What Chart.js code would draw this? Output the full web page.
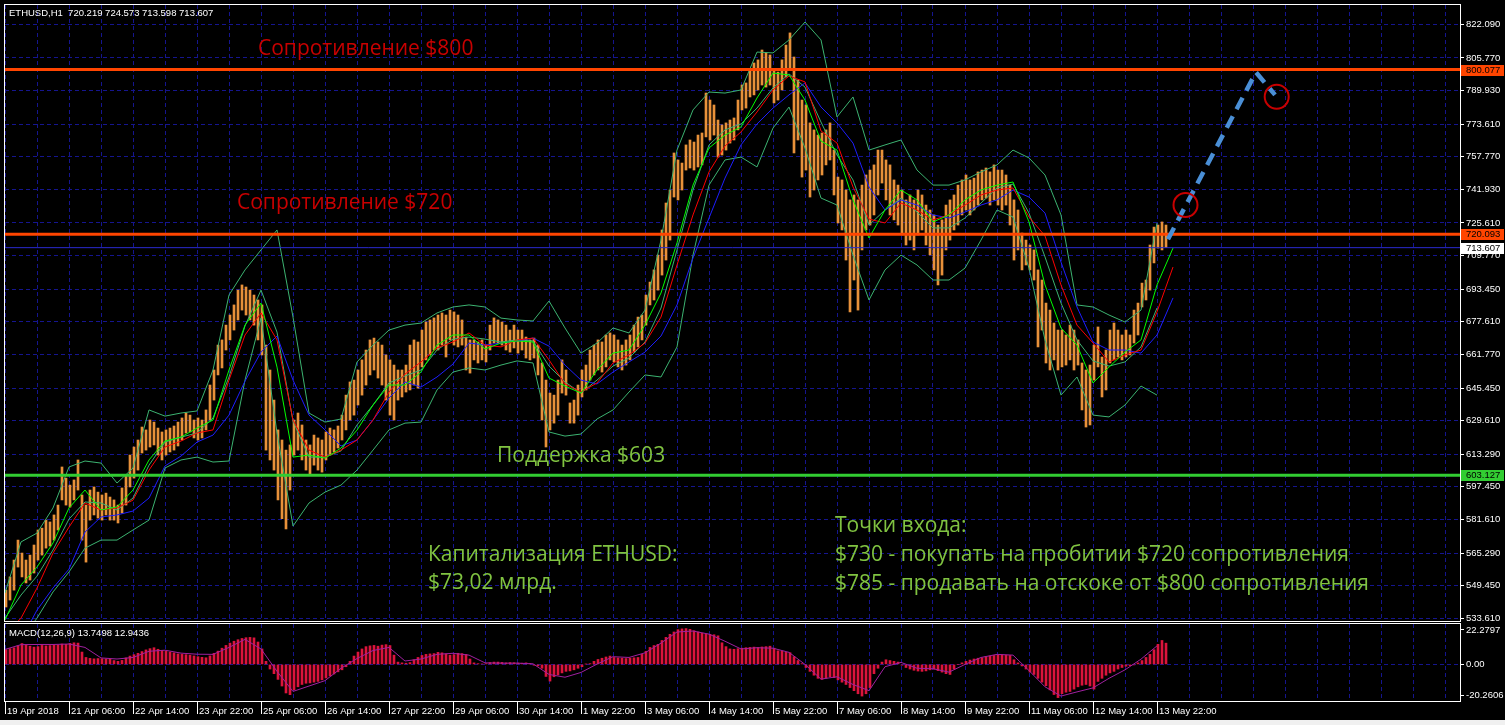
<!DOCTYPE html>
<html><head><meta charset="utf-8">
<script src="https://cdn.jsdelivr.net/npm/chart.js@4.4.1/dist/chart.umd.min.js"></script>
<style>
html,body{margin:0;padding:0;background:#000;width:1505px;height:725px;overflow:hidden}
#wrap{position:relative;width:1505px;height:725px;background:#000}
#mainBox{position:absolute;left:0;top:0;width:1505px;height:622px}
#macdBox{position:absolute;left:0;top:622px;width:1505px;height:103px}
#ov{position:absolute;left:0;top:0;width:1505px;height:725px;pointer-events:none}
#strip{position:absolute;left:0;top:720px;width:1505px;height:5px;background:#f0f0f0}
</style></head><body>
<div id="wrap">
<div id="mainBox"><canvas id="main" width="1505" height="622"></canvas></div>
<div id="macdBox"><canvas id="macd" width="1505" height="103"></canvas></div>
<div id="strip"></div>
<svg id="ov" xmlns="http://www.w3.org/2000/svg" width="1505" height="725">
  <g font-family="Liberation Sans, Arial, sans-serif" font-size="9.5" fill="#ffffff" style="white-space:pre">
    <text x="9" y="16" xml:space="preserve">ETHUSD,H1  720.219 724.573 713.598 713.607</text>
    <text x="9" y="636" xml:space="preserve">MACD(12,26,9) 13.7498 12.9436</text>
  </g>
  <g font-family="Open Sans, Noto Sans, sans-serif" font-size="21">
    <text x="258" y="55" fill="#c80000">Сопротивление $800</text>
    <text x="237" y="209" fill="#c80000">Сопротивление $720</text>
    <text x="497" y="462" fill="#80c341">Поддержка $603</text>
    <text x="428" y="561" fill="#80c341">Капитализация ETHUSD:</text>
    <text x="428" y="589" fill="#80c341">$73,02 млрд.</text>
    <text x="835" y="532" fill="#80c341">Точки входа:</text>
    <text x="835" y="561" fill="#80c341">$730 - покупать на пробитии $720 сопротивления</text>
    <text x="835" y="590" fill="#80c341">$785 - продавать на отскоке от $800 сопротивления</text>
  </g>
</svg>
</div>
<script>
// ---------- DATA ----------
const timeLabels = ['19 Apr 2018','21 Apr 06:00','22 Apr 14:00','23 Apr 22:00','25 Apr 06:00','26 Apr 14:00','27 Apr 22:00','29 Apr 06:00','30 Apr 14:00','1 May 22:00','3 May 06:00','4 May 14:00','5 May 22:00','7 May 06:00','8 May 14:00','9 May 22:00','11 May 06:00','12 May 14:00','13 May 22:00'];
const priceTicks = [822.090,805.770,789.930,773.610,757.770,741.930,725.610,709.770,693.450,677.610,661.770,645.450,629.610,613.290,597.450,581.610,565.290,549.450,533.610];
const macdTicks = [22.2797, 0, -20.2606];
const macdTickLabels = ['22.2797','0.00','-20.2606'];

// price bars (one entry per two H1 bars): highs and lows
const barHigh = [547.3,553.7,561.9,571.6,565.3,561.9,564.3,569.2,576.5,577.4,
581.3,580.4,583.8,588.6,607.1,601.7,598.3,600.8,610.5,593.5,
588.6,595.9,597.4,594.9,593.5,594.4,592.5,591.1,588.6,596.9,
603.2,612.9,616.8,620.2,626.5,625.1,629.9,628.9,626.0,624.1,
625.1,626.0,627.0,628.9,630.9,633.3,632.3,629.9,630.9,629.9,
634.8,646.9,654.2,666.3,668.8,676.0,680.9,685.8,693.0,695.5,
694.5,693.0,690.6,688.2,685.8,666.3,654.2,639.6,625.1,620.2,
615.3,617.8,629.9,633.3,627.5,620.2,617.8,622.6,621.2,620.2,
624.1,626.0,625.1,627.0,632.3,642.0,648.4,649.3,654.2,659.1,
663.9,668.8,669.7,667.8,666.3,661.5,659.1,656.6,654.2,654.2,
656.6,666.3,668.8,667.8,673.6,677.5,678.5,679.5,680.9,681.9,
680.9,683.3,682.4,680.9,678.5,670.2,668.8,668.8,667.8,668.8,
666.3,676.0,679.5,678.5,677.5,676.0,673.6,676.0,673.6,673.6,
670.2,668.8,669.7,666.3,657.6,649.3,643.0,642.0,649.3,659.1,
654.2,638.2,639.6,646.9,654.2,656.6,663.9,666.3,668.8,667.8,
671.2,672.2,671.2,668.8,666.3,668.8,671.2,676.0,679.9,680.9,
690.6,696.9,702.8,710.0,722.2,735.3,741.6,759.6,756.2,754.7,
763.5,765.9,764.9,768.3,769.3,788.7,785.3,782.9,775.6,773.2,
774.2,775.6,776.6,785.3,792.6,793.6,799.9,803.3,804.8,809.6,
808.2,807.2,799.9,798.9,804.8,812.0,817.9,806.2,795.0,785.3,
782.9,774.2,770.8,768.3,769.3,770.8,774.2,761.0,747.9,746.5,
741.6,736.8,739.2,736.8,744.0,748.9,751.3,753.8,761.0,761.0,
756.2,753.8,746.5,744.0,741.6,736.8,739.2,736.8,741.6,739.2,
734.3,731.9,729.5,724.6,727.1,734.3,736.8,739.2,744.0,746.5,
748.9,746.5,747.4,750.4,751.3,752.3,750.4,753.8,751.3,751.3,
748.9,744.0,736.8,731.9,720.7,717.3,714.9,712.5,702.8,697.9,
686.7,683.3,677.0,673.6,673.6,671.2,676.0,673.6,668.8,657.6,
654.2,656.6,666.3,675.1,660.5,663.9,673.6,677.0,673.6,671.2,
673.6,671.2,683.3,686.7,696.4,697.9,714.9,723.6,724.6,726.1,
724.6];
const barLow = [539.1,542.5,547.3,558.5,553.7,550.8,552.2,555.6,561.9,564.3,
567.7,568.7,571.6,576.5,591.1,588.6,587.6,591.1,595.9,571.6,
560.9,581.3,583.8,582.3,581.3,583.8,581.3,581.3,579.9,584.7,
588.6,597.4,601.7,605.6,613.9,615.3,616.8,617.8,612.9,610.5,
612.9,614.4,615.3,617.3,620.2,623.6,624.1,621.2,620.2,621.2,
625.1,629.9,639.6,651.8,655.2,663.9,668.8,673.6,678.5,683.3,
680.9,678.5,676.0,668.8,661.5,615.3,610.5,605.6,591.1,582.0,
577.0,595.9,612.9,615.3,610.5,605.6,603.2,608.0,605.6,604.6,
610.5,612.9,614.4,616.3,620.2,625.1,629.9,632.3,637.2,642.0,
646.9,651.8,654.2,650.3,646.9,639.6,632.3,629.9,639.6,641.1,
643.5,644.5,646.9,645.4,655.7,659.1,661.5,663.9,663.9,666.3,
660.5,668.8,666.3,665.4,666.3,654.2,652.7,659.1,657.6,659.1,
658.1,663.9,667.3,667.3,666.3,663.9,662.9,664.9,662.4,663.9,
660.0,659.1,660.0,651.8,629.9,616.8,625.1,628.4,632.3,643.0,
642.0,628.4,628.4,632.3,641.1,644.5,649.3,651.8,654.2,653.2,
655.7,659.1,658.1,655.7,654.2,656.6,659.1,662.9,665.4,668.8,
676.0,685.8,688.2,693.0,700.3,707.6,717.3,738.2,736.8,741.6,
751.3,752.3,751.3,752.8,753.8,767.4,765.9,768.3,757.6,758.6,
761.0,764.4,765.9,770.8,780.5,781.4,786.8,787.8,790.2,792.6,
791.6,792.6,783.9,785.3,790.2,796.5,799.9,759.6,765.9,747.9,
751.3,738.2,741.6,746.5,748.9,753.8,756.2,739.2,725.6,722.2,
707.6,682.4,697.9,683.3,712.5,722.2,724.6,729.5,739.2,745.0,
736.8,729.5,727.1,724.6,719.8,714.9,717.3,712.5,719.8,722.2,
714.9,710.1,702.8,695.5,700.3,712.5,717.3,722.2,724.6,729.5,
731.9,729.5,731.9,734.3,736.8,737.7,734.3,736.8,734.3,731.9,
734.3,724.6,707.6,712.5,702.8,705.2,702.8,697.9,665.4,673.6,
657.6,654.2,659.1,654.2,655.7,656.6,659.1,654.2,656.6,634.8,
626.5,627.5,649.3,655.7,641.1,644.5,657.6,659.1,660.5,659.1,
660.5,661.5,667.3,671.2,684.8,688.2,693.0,706.2,713.4,712.5,
713.6];

// indicator lines (one entry per eight H1 bars)
const maGreen = [532.8,549.8,558.5,570.2,587.2,595.9,586.2,587.7,595.9,610.5,619.7,621.6,626.0,629.9,654.2,676.0,686.7,655.6,611.9,612.9,611.4,616.3,625.0,637.2,646.9,646.9,653.2,666.3,671.2,671.2,664.4,667.3,668.3,667.8,650.3,646.4,643.0,654.2,662.4,663.9,676.0,691.6,715.9,744.0,762.0,768.3,772.2,786.3,798.4,797.5,785.3,765.4,761.0,736.8,718.3,731.9,741.6,736.8,726.1,729.5,736.8,741.6,744.0,745.5,726.1,695.5,674.6,666.3,647.9,655.6,662.9,668.8,695.5,713.4];
const maRed = [525.5,533.7,548.3,565.3,577.9,589.6,586.2,587.2,591.0,605.6,616.8,619.7,623.6,625.1,649.3,671.2,681.9,668.8,629.9,615.3,611.9,615.3,620.2,629.9,643.5,652.2,658.1,664.9,667.8,672.2,666.3,665.4,668.8,669.7,659.1,647.4,643.5,647.9,657.6,661.5,667.3,679.9,705.2,729.5,750.4,763.0,769.8,779.5,790.2,797.0,794.1,770.3,764.4,743.1,727.5,725.6,735.3,731.9,727.1,729.5,734.3,739.2,741.6,742.6,728.5,719.3,695.5,676.0,667.3,658.1,661.5,663.9,682.4,704.2];
const maBlue = [518.2,523.1,537.6,548.3,557.5,575.5,582.8,583.8,585.7,592.0,607.6,612.4,619.2,622.6,632.3,648.8,662.9,670.7,649.3,632.3,625.1,617.3,620.2,629.9,640.6,648.4,645.9,650.8,657.1,667.3,666.3,667.3,668.3,669.7,665.8,656.6,649.3,647.4,653.2,658.1,662.9,670.7,685.8,708.6,728.0,747.4,763.5,773.7,781.4,787.8,793.6,781.9,774.2,764.4,743.1,731.9,736.8,734.3,729.5,728.0,730.9,734.3,736.8,741.6,738.2,730.4,706.6,684.8,667.8,663.9,663.9,662.4,671.2,689.2];
const bbUpper = [545.9,570.7,575.0,587.2,607.1,610.0,609.0,599.3,606.6,634.8,631.8,633.3,634.3,654.2,690.6,702.8,712.5,722.2,679.9,633.3,628.9,630.4,658.1,666.3,673.6,676.0,677.0,681.9,684.8,685.8,684.8,679.4,678.5,678.0,687.7,674.6,662.4,667.3,674.6,672.2,683.3,717.3,761.0,780.5,789.2,788.7,790.2,808.6,808.2,814.5,823.2,814.5,777.1,786.8,761.0,763.5,765.9,751.3,744.0,744.0,746.5,750.4,753.8,761.0,757.2,748.9,729.5,685.8,684.8,680.9,677.5,683.3,725.6];
const bbMid = [533.7,544.9,554.1,566.8,581.8,590.1,589.6,586.2,592.0,608.0,619.2,621.6,623.6,630.9,650.8,675.6,693.0,672.6,629.4,611.9,611.9,614.9,627.5,637.2,647.9,651.3,654.2,663.9,669.2,670.2,669.2,667.8,668.8,668.3,656.1,648.4,643.0,649.3,656.1,660.0,667.8,684.3,712.5,741.6,763.5,770.8,773.7,781.4,791.2,798.0,791.6,774.6,758.6,746.5,724.6,731.9,737.7,730.9,723.2,723.2,728.0,735.3,742.6,744.5,730.4,709.1,686.7,668.8,658.6,656.1,658.1,665.4,684.3];
const bbLower = [523.1,523.1,533.7,546.4,556.1,567.7,571.6,571.6,576.5,581.3,606.6,610.5,611.9,609.5,610.0,649.3,679.4,623.6,578.4,589.6,594.9,598.3,605.6,615.3,625.1,628.4,628.9,644.5,653.2,655.2,654.2,656.6,658.6,657.6,624.1,622.1,623.1,630.4,634.8,643.5,651.8,650.8,665.4,710.0,744.0,756.2,757.6,752.8,771.7,781.9,762.0,737.7,734.3,710.0,688.2,702.8,710.0,705.2,697.9,697.9,703.7,717.3,731.9,728.5,703.7,668.8,642.0,650.8,632.3,631.4,637.2,646.4,642.0];

// MACD histogram (one entry per two H1 bars) and signal (one per eight)
const macdHist = [9.5,10.2,10.8,12.0,13.5,12.5,11.8,11.2,11.5,12.3,
12.0,12.2,12.5,12.6,13.2,13.0,13.6,14.0,13.8,8.0,
4.5,3.9,3.6,3.8,3.7,3.5,3.3,2.5,2.0,2.6,
4.2,5.4,6.3,7.2,8.3,9.4,10.2,10.8,9.8,9.0,
8.6,8.0,7.5,6.8,6.5,6.3,6.0,5.5,5.0,4.6,
4.3,5.5,7.2,8.6,10.5,12.3,13.8,15.0,16.0,16.8,
17.3,17.5,17.2,14.5,10.0,2.0,-3.0,-6.0,-9.7,-14.0,
-18.5,-19.6,-16.5,-14.5,-13.0,-12.2,-12.0,-11.5,-11.0,-10.0,
-8.8,-7.5,-6.2,-4.8,-3.5,-1.5,2.0,5.4,8.0,10.0,
11.5,12.0,12.3,11.8,12.5,12.8,12.2,6.0,1.5,1.0,
0.8,1.2,3.0,4.5,5.8,6.5,6.8,7.0,7.8,7.5,
6.8,6.0,6.3,7.2,7.0,6.5,3.5,1.0,0.5,0.3,
0.5,1.2,1.5,1.5,1.3,1.0,1.2,1.1,0.9,0.8,
1.0,0.6,-0.5,-1.0,-2.5,-7.8,-10.8,-8.0,-6.8,-5.5,
-4.5,-4.2,-3.5,-2.5,-1.5,0.2,0.5,2.0,3.2,4.0,
4.8,5.4,4.5,4.2,4.0,3.8,4.0,4.3,4.5,6.5,
8.5,11.0,12.2,13.0,15.5,17.5,19.5,21.0,22.5,23.0,
23.2,22.7,21.8,21.0,20.2,19.8,19.5,19.2,18.5,14.0,
11.5,10.0,9.8,10.2,10.5,10.8,11.0,11.2,11.0,11.3,
11.5,11.8,10.5,8.8,8.5,7.8,7.6,5.0,2.5,0.5,
-2.0,-4.5,-7.0,-9.0,-9.7,-9.0,-8.0,-8.6,-10.0,-11.5,
-13.0,-15.0,-17.0,-19.0,-20.5,-19.0,-15.0,-6.0,-2.5,1.5,
3.0,2.5,2.0,1.5,-0.5,-2.0,-3.0,-3.8,-4.3,-4.5,
-4.2,-3.5,-3.0,-4.0,-5.0,-6.0,-6.5,-3.0,0.0,1.0,
2.0,2.8,3.5,4.0,4.3,5.0,5.4,5.8,6.0,6.2,
6.0,5.8,3.0,1.0,-1.0,-3.0,-5.0,-6.5,-9.0,-11.5,
-13.8,-16.5,-19.5,-21.5,-19.0,-18.0,-17.5,-16.0,-14.5,-13.5,
-13.0,-14.0,-16.0,-11.0,-9.0,-7.0,-5.5,-4.5,-3.0,-2.0,
-1.2,-0.8,-0.3,1.0,2.5,4.5,6.5,9.5,13.0,15.5,
13.75];
const macdSignal = [9.7,12.8,12.9,12.9,13.2,11.0,4.2,3.5,4.5,8.5,9.2,7.3,6.6,6.5,11.0,16.2,10.0,-4.5,-17.5,-14.0,-10.5,-2.5,3.8,9.0,11.0,2.2,3.5,6.5,7.2,6.0,1.0,0.8,0.8,0.4,-6.5,-8.3,-5.2,0.2,5.0,4.5,7.5,13.8,21.0,21.6,19.6,15.0,10.0,10.8,10.5,7.8,0.0,-9.5,-8.0,-13.0,-17.0,-1.5,1.3,-2.5,-2.8,-5.0,0.0,4.5,6.5,6.0,-4.0,-14.5,-20.5,-17.8,-15.2,-9.0,-3.5,3.4,12.0];

// horizontal levels
const resistanceLevels = [800.077, 720.093];
const supportLevels = [603.127];
const bidPrice = 713.607;

// forecast path (bar index, price) and entry circles
const forecastIdx = [581.5, 625.5, 635];
const forecastPrice = [717.7, 798.8, 787.8];
const entryIdx = [590.25, 635.85];
const entryPrice = [734.3, 786.9];

// ---------- CHART ----------
const BAR_STEP = 2, LINE_STEP = 8, LABEL_STEP = 32, GRID_STEP = 16, X_MAX = 727.5;
const gridIdx = [];
for (let v = 0; v <= X_MAX; v += GRID_STEP) gridIdx.push(v);
const labelFor = v => (v % LABEL_STEP === 0 && v / LABEL_STEP < timeLabels.length) ? timeLabels[v / LABEL_STEP] : '';

const GRID = '#15158f';
const DASH = [4, 3];
const FONT = {family: 'Liberation Sans, Arial, sans-serif', size: 9.5};

const lineSet = (arr, color, order) => ({
  type: 'line', data: arr.map((v, m) => ({x: m * LINE_STEP, y: v})),
  borderColor: color, borderWidth: 1, pointRadius: 0, tension: 0, order: order
});
const hLine = (v, color, width, order) => ({
  type: 'line', data: [{x: -2, y: v}, {x: X_MAX + 2, y: v}],
  borderColor: color, borderWidth: width, pointRadius: 0, order: order, clip: 0
});

const framePlugin = {
  id: 'frame',
  afterDraw(chart, args, opts) {
    const {ctx, chartArea: a} = chart;
    ctx.save();
    ctx.strokeStyle = '#ffffff';
    ctx.lineWidth = 1;
    ctx.strokeRect(a.left - 0.5, a.top - 0.5, a.right - a.left + 1, a.bottom - a.top + 1);
    if (opts && opts.boxes) {
      const ys = chart.scales.y;
      ctx.font = '9.5px "Liberation Sans", Arial, sans-serif';
      ctx.textBaseline = 'middle';
      ctx.textAlign = 'left';
      opts.boxes.forEach(b => {
        const y = Math.round(ys.getPixelForValue(b.value));
        ctx.fillStyle = b.bg;
        ctx.fillRect(a.right + 1, y - 5, 43, 11);
        ctx.fillStyle = b.fg;
        ctx.fillText(b.value.toFixed(3), a.right + 6, y + 0.5);
      });
    }
    ctx.restore();
  }
};

const xScaleBase = {
  type: 'linear', min: 0, max: X_MAX, offset: false, bounds: 'data',
  afterBuildTicks: s => { s.ticks = gridIdx.map(v => ({value: v})); },
  border: {display: false, dash: DASH}
};

new Chart(document.getElementById('main'), {
  type: 'bar',
  data: {datasets: [
    {type: 'bar', data: barHigh.map((h, k) => ({x: k * BAR_STEP + 0.5, y: [barLow[k], h]})),
     backgroundColor: '#e8913a', barThickness: 2, borderWidth: 0, order: 20},
    lineSet(bbUpper, '#3cb371', 15),
    lineSet(bbLower, '#3cb371', 15),
    lineSet(bbMid, '#3cb371', 15),
    lineSet(maBlue, '#1e1eff', 12),
    lineSet(maRed, '#ff0000', 11),
    lineSet(maGreen, '#00ff00', 10),
    hLine(bidPrice, '#2a2ad0', 1, 5),
    ...resistanceLevels.map(v => hLine(v, '#ff4500', 3, 3)),
    ...supportLevels.map(v => hLine(v, '#32cd32', 3, 3)),
    {type: 'line', data: forecastIdx.map((x, i) => ({x: x, y: forecastPrice[i]})),
     borderColor: '#4a8fd6', borderWidth: 4.5, borderDash: [13, 8], pointRadius: 0, order: 1, clip: 0},
    {type: 'line', data: entryIdx.map((x, i) => ({x: x, y: entryPrice[i]})), showLine: false,
     pointRadius: 12, pointBorderWidth: 2, pointBorderColor: '#c80000', pointBackgroundColor: 'rgba(0,0,0,0)', order: 0, clip: false}
  ]},
  options: {
    responsive: false, animation: false, devicePixelRatio: 1,
    layout: {autoPadding: false, padding: {left: 5, top: 5, right: 0, bottom: 1}},
    plugins: {legend: {display: false}, tooltip: {enabled: false},
      frame: {boxes: [
        {value: resistanceLevels[0], bg: '#ff4500', fg: '#000'},
        {value: resistanceLevels[1], bg: '#ff4500', fg: '#000'},
        {value: bidPrice, bg: '#ffffff', fg: '#000'},
        {value: supportLevels[0], bg: '#32cd32', fg: '#000'}
      ]}},
    scales: {
      x: Object.assign({}, xScaleBase, {
        afterFit: s => { s.height = 0; s.paddingLeft = 0; s.paddingRight = 0; },
        ticks: {display: false},
        grid: {color: GRID, drawTicks: false, offset: false}
      }),
      y: {
        type: 'linear', position: 'right', min: 532.30, max: 831.46, bounds: 'data', beginAtZero: false,
        afterBuildTicks: s => { s.ticks = priceTicks.map(v => ({value: v})); },
        afterFit: s => { s.width = 45; s.paddingTop = 0; s.paddingBottom = 0; },
        ticks: {color: '#ffffff', font: FONT, padding: 2, autoSkip: false, callback: v => Number(v).toFixed(3)},
        grid: {color: GRID, drawTicks: true, tickLength: 4, tickColor: '#ffffff'},
        border: {display: false, dash: DASH}
      }
    }
  },
  plugins: [framePlugin]
});

new Chart(document.getElementById('macd'), {
  type: 'bar',
  data: {datasets: [
    {type: 'bar', data: macdHist.map((v, k) => ({x: k * BAR_STEP + 0.5, y: v})),
     backgroundColor: '#dc143c', barThickness: 2, borderWidth: 0, order: 5},
    {type: 'line', data: macdSignal.map((v, m) => ({x: m * LINE_STEP, y: v})),
     borderColor: '#a020a0', borderWidth: 1, pointRadius: 0, tension: 0, order: 1}
  ]},
  options: {
    responsive: false, animation: false, devicePixelRatio: 1,
    layout: {autoPadding: false, padding: {left: 5, top: 2, right: 0, bottom: 0}},
    plugins: {legend: {display: false}, tooltip: {enabled: false}, frame: {}},
    scales: {
      x: Object.assign({}, xScaleBase, {
        afterFit: s => { s.height = 24; s.paddingLeft = 0; s.paddingRight = 0; },
        ticks: {display: true, color: '#ffffff', font: FONT, autoSkip: false, maxRotation: 0, minRotation: 0,
                align: 'start', padding: -8, labelOffset: 2, callback: v => labelFor(v)},
        grid: {color: GRID, drawTicks: true, tickLength: 13, offset: false,
               tickColor: c => (c.tick && labelFor(c.tick.value)) ? '#ffffff' : 'rgba(0,0,0,0)'}
      }),
      y: {
        type: 'linear', position: 'right', min: -23.69, max: 26.16, bounds: 'data', beginAtZero: false,
        afterBuildTicks: s => { s.ticks = macdTicks.map(v => ({value: v})); },
        afterFit: s => { s.width = 45; s.paddingTop = 0; s.paddingBottom = 0; },
        ticks: {color: '#ffffff', font: FONT, padding: 2, autoSkip: false, callback: (v, i) => macdTickLabels[i]},
        grid: {color: c => (c.tick && c.tick.value === 0) ? GRID : 'rgba(0,0,0,0)', drawTicks: true, tickLength: 4, tickColor: '#ffffff'},
        border: {display: false, dash: DASH}
      }
    }
  },
  plugins: [framePlugin]
});
</script>
</body></html>
